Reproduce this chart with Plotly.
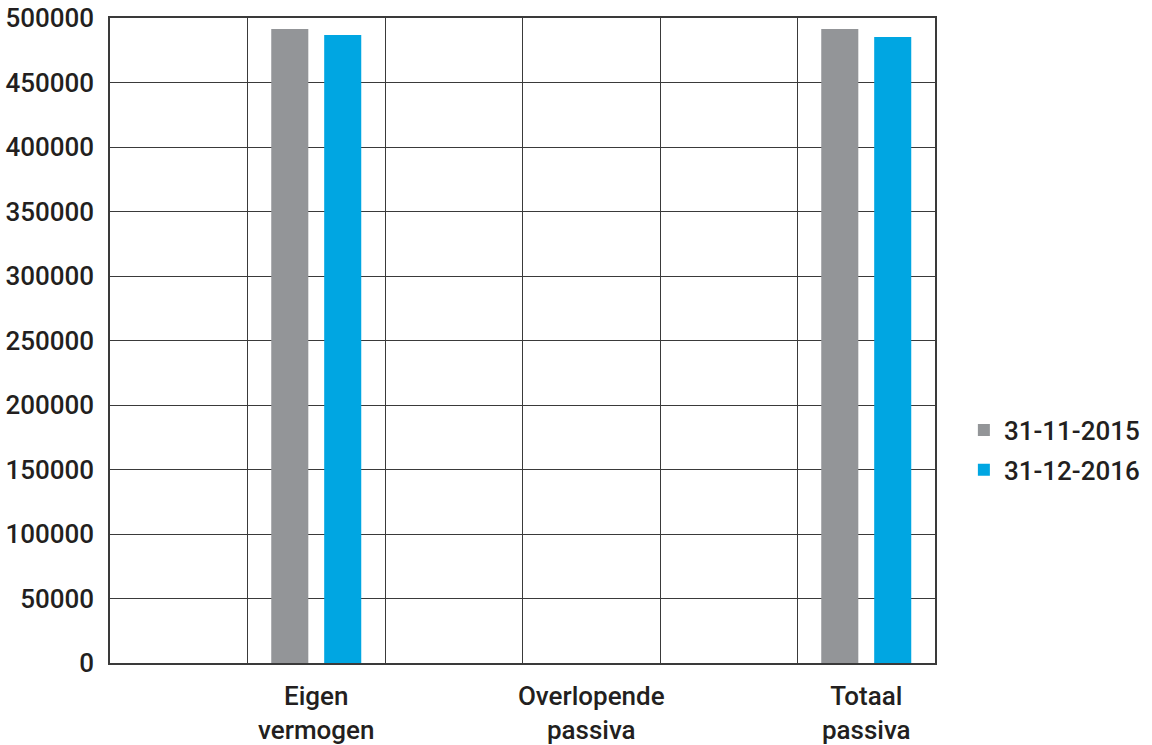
import plotly.graph_objects as go

categories = ["Eigen vermogen", "Overlopende passiva", "Totaal passiva"]
tick_labels = ["Eigen<br>vermogen", "Overlopende<br>passiva", "Totaal<br>passiva"]
series_names = ["31-11-2015", "31-12-2016"]
values_2015 = [491500, None, 491500]
values_2016 = [486800, None, 485300]
y_ticks = [0, 50000, 100000, 150000, 200000, 250000, 300000, 350000, 400000, 450000, 500000]

colors = ["#939598", "#00a6e2"]
text_color = "#231f20"
font_family = "Roboto, sans-serif"

x_idx = list(range(len(categories)))

fig = go.Figure()
for name, vals, col in zip(series_names, [values_2015, values_2016], colors):
    fig.add_trace(go.Bar(x=x_idx, y=vals, name=name, legendgroup=name,
                         marker=dict(color=col, line=dict(width=0))))

fig.update_layout(
    width=1152, height=745,
    margin=dict(l=110, r=217, t=18, b=82, autoexpand=False),
    paper_bgcolor="white", plot_bgcolor="white",
    barmode="group", bargap=0.615, bargroupgap=0.30,
    font=dict(family=font_family, size=26, color=text_color, weight=500),
    showlegend=True,
    legend=dict(x=1.035, y=0.33, xanchor="left", yanchor="middle",
                font=dict(size=26, color=text_color, weight=500), itemwidth=30,
                tracegroupgap=3),
)
fig.update_xaxes(
    range=[-0.75, 2.25], automargin=False,
    tickmode="array", tickvals=x_idx, ticktext=tick_labels,
    tickfont=dict(size=26),
    showgrid=False, zeroline=False,
    showline=True, mirror=True, linecolor="#3a3a3a", linewidth=1.5,
    ticks="", ticklabelstandoff=9,
    minor=dict(tickmode="linear", tick0=0.25, dtick=0.5, showgrid=True,
               gridcolor="#3a3a3a", gridwidth=1.2, ticks=""),
)
fig.update_yaxes(
    range=[0, 500000], automargin=False,
    tickmode="array", tickvals=y_ticks, ticktext=[str(v) for v in y_ticks],
    showgrid=True, gridcolor="#3a3a3a", gridwidth=1.2,
    zeroline=False,
    showline=True, mirror=True, linecolor="#3a3a3a", linewidth=1.5,
    ticks="", ticklabelstandoff=9,
)

fig.write_html("out.html", config={"displayModeBar": False},
               post_script="document.body.style.margin='0';")
